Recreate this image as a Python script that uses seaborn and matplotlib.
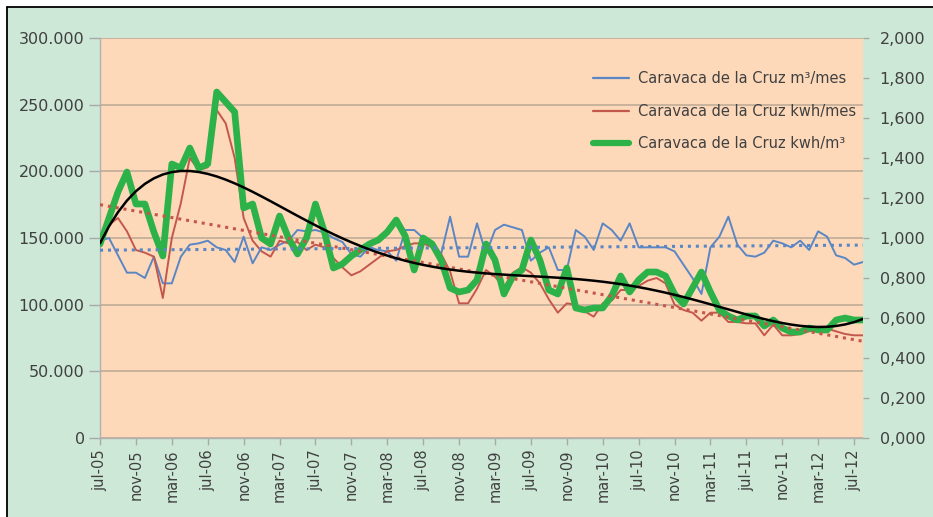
import numpy as np
import pandas as pd
import matplotlib
matplotlib.use("Agg")
import matplotlib.pyplot as plt
import seaborn as sns
from matplotlib.ticker import FuncFormatter, MultipleLocator
from matplotlib.lines import Line2D
from matplotlib.patches import Rectangle

# Monthly data, jul-05 .. ago-12
start_month = "2005-07-01"
meses = ["ene", "feb", "mar", "abr", "may", "jun",
         "jul", "ago", "sep", "oct", "nov", "dic"]

m3_mes = [148000, 150000, 137000, 124000, 124000, 120000, 136000, 116000, 116000, 136000,
          145000, 146000, 148000, 143000, 141000, 132000, 151000, 131000, 143000, 141000,
          145000, 148000, 156000, 155000, 156000, 154000, 150000, 147000, 138000, 136000,
          143000, 141000, 140000, 133000, 156000, 156000, 150000, 147000, 138000, 166000,
          136000, 136000, 161000, 138000, 156000, 160000, 158000, 156000, 133000, 139000,
          143000, 126000, 126000, 156000, 151000, 141000, 161000, 156000, 148000, 161000,
          143000, 143000, 143000, 143000, 140000, 130000, 120000, 108000, 143000, 151000,
          166000, 145000, 137000, 136000, 139000, 148000, 146000, 143000, 148000, 141000,
          155000, 151000, 137000, 135000, 130000, 132000]

kwh_mes = [148000, 160000, 165000, 155000, 141000, 139000, 136000, 105000, 150000, 176000,
           210000, 201000, 203000, 246000, 236000, 210000, 165000, 148000, 140000, 136000,
           148000, 146000, 147000, 141000, 145000, 143000, 135000, 128000, 122000, 125000,
           130000, 135000, 140000, 141000, 144000, 146000, 146000, 143000, 138000, 125000,
           101000, 101000, 112000, 126000, 121000, 113000, 124000, 128000, 124000, 116000,
           104000, 94000, 101000, 100000, 95000, 91000, 101000, 103000, 111000, 111000,
           114000, 118000, 120000, 116000, 100000, 96000, 94000, 88000, 94000, 94000,
           87000, 87000, 86000, 86000, 77000, 85000, 77000, 77000, 78000, 80000,
           81000, 82000, 80000, 78000, 77000, 77000]

kwh_m3 = [0.97, 1.10, 1.23, 1.33, 1.17, 1.17, 1.03, 0.91, 1.37, 1.35,
          1.45, 1.35, 1.37, 1.73, 1.68, 1.63, 1.15, 1.17, 1.00, 0.97,
          1.11, 1.00, 0.92, 1.00, 1.17, 1.03, 0.85, 0.87, 0.91, 0.94,
          0.97, 0.99, 1.03, 1.09, 1.01, 0.84, 1.00, 0.97, 0.89, 0.75,
          0.73, 0.74, 0.79, 0.97, 0.89, 0.72, 0.81, 0.84, 0.99, 0.89,
          0.74, 0.72, 0.85, 0.65, 0.64, 0.65, 0.65, 0.71, 0.81, 0.73,
          0.79, 0.83, 0.83, 0.81, 0.72, 0.67, 0.75, 0.83, 0.73, 0.64,
          0.61, 0.59, 0.61, 0.61, 0.56, 0.59, 0.55, 0.53, 0.53, 0.55,
          0.54, 0.54, 0.59, 0.60, 0.59, 0.59]

series_labels = ["Caravaca de la Cruz m³/mes",
                 "Caravaca de la Cruz kwh/mes",
                 "Caravaca de la Cruz kwh/m³"]

fechas = pd.date_range(start_month, periods=len(m3_mes), freq="MS")
etiquetas = [f"{meses[d.month - 1]}-{d.strftime('%y')}" for d in fechas]

df = pd.DataFrame({"mes": np.arange(len(m3_mes)), "m3": m3_mes,
                   "kwh": kwh_mes, "ratio": kwh_m3})

# Excel-style trendlines
trend_m3 = np.polyval(np.polyfit(df.mes, df.m3, 1), df.mes)
trend_kwh = np.polyval(np.polyfit(df.mes, df.kwh, 1), df.mes)
trend_ratio = np.polynomial.Polynomial.fit(df.mes, df.ratio, 6)(df.mes)

# Colours
bg_green = "#cde8d6"
bg_peach = "#fdd9ba"
c_blue = "#5a86c4"
c_red = "#c4574c"
c_green = "#2db24a"
c_text = "#404040"
c_grid = "#bba895"

sns.set_theme(style="white")
plt.rcParams["font.family"] = ["DejaVu Sans"]

fig, ax = plt.subplots(figsize=(9.33, 5.17), dpi=100)
fig.patch.set_facecolor("white")
fig.subplots_adjust(left=0.1072, right=0.925, bottom=0.1528, top=0.9265)

# green background with black border on top/left
fig.add_artist(Rectangle((7 / 933, 0), 1, 1 - 7 / 517, transform=fig.transFigure,
                         facecolor=bg_green, edgecolor="none", zorder=-2))
fig.add_artist(Line2D([6.5 / 933, 6.5 / 933], [0, 1 - 6.5 / 517], transform=fig.transFigure,
                      color="black", lw=1.3))
fig.add_artist(Line2D([6.5 / 933, 1], [1 - 6.5 / 517, 1 - 6.5 / 517], transform=fig.transFigure,
                      color="black", lw=1.3))

ax.set_facecolor(bg_peach)
sns.lineplot(data=df, x="mes", y="m3", ax=ax, color=c_blue, lw=1.4)
sns.lineplot(data=df, x="mes", y="kwh", ax=ax, color=c_red, lw=1.4)

ax2 = ax.twinx()
sns.lineplot(data=df, x="mes", y="ratio", ax=ax2, color=c_green, lw=4.8, zorder=2)
ax2.plot(df.mes, trend_m3, transform=ax.transData, color=c_blue,
         lw=2.2, ls=(0, (1, 1.6)), zorder=3)
ax2.plot(df.mes, trend_kwh, transform=ax.transData, color=c_red,
         lw=2.2, ls=(0, (1, 1.6)), zorder=3)
ax2.plot(df.mes, trend_ratio, color="black", lw=1.8, zorder=4)

ax.set_xlim(0, len(m3_mes) - 1)
ax.set_ylim(0, 300000)
ax2.set_ylim(0, 2)
ax2.set_xlim(0, len(m3_mes) - 1)

ax.yaxis.set_major_locator(MultipleLocator(50000))
ax.yaxis.set_major_formatter(FuncFormatter(lambda v, p: "0" if v == 0 else f"{int(v):,}".replace(",", ".")))
ax2.yaxis.set_major_locator(MultipleLocator(0.2))
ax2.yaxis.set_major_formatter(FuncFormatter(lambda v, p: f"{v:.3f}".replace(".", ",")))

tick_pos = list(range(0, len(m3_mes), 4))
ax.set_xticks(tick_pos)
ax.set_xticklabels([etiquetas[i] for i in tick_pos], rotation=90)

ax.set_xlabel("")
ax.set_ylabel("")
ax2.set_ylabel("")

ax.yaxis.grid(True, color=c_grid, lw=1.1)
ax.xaxis.grid(False)
ax2.grid(False)

ax.tick_params(axis="y", labelsize=11.5, colors=c_text, length=8, width=1,
               color="#a9a9a9", left=True, pad=3)
ax.tick_params(axis="x", labelsize=10.5, colors=c_text, length=5, width=1,
               color="#a9a9a9", bottom=True, pad=3)
ax2.tick_params(axis="y", labelsize=11.5, colors=c_text, length=4, width=1,
                color="#a9a9a9", right=True, pad=8)

for s in ["top", "right"]:
    ax.spines[s].set_visible(False)
for s in ["left", "bottom"]:
    ax.spines[s].set_color("#b0b0b0")
    ax.spines[s].set_linewidth(1)
for s in ax2.spines.values():
    s.set_visible(False)

handles = [Line2D([], [], color=c_blue, lw=1.6),
           Line2D([], [], color=c_red, lw=1.6),
           Line2D([], [], color=c_green, lw=4.5)]
leg = ax2.legend(handles, series_labels, loc="upper right", bbox_to_anchor=(1.008, 0.95),
                 frameon=False, fontsize=10.5, handlelength=2.5, labelspacing=1.2,
                 handletextpad=0.6)
for t in leg.get_texts():
    t.set_color(c_text)

fig.savefig("out.png", dpi=100, facecolor=fig.get_facecolor())
